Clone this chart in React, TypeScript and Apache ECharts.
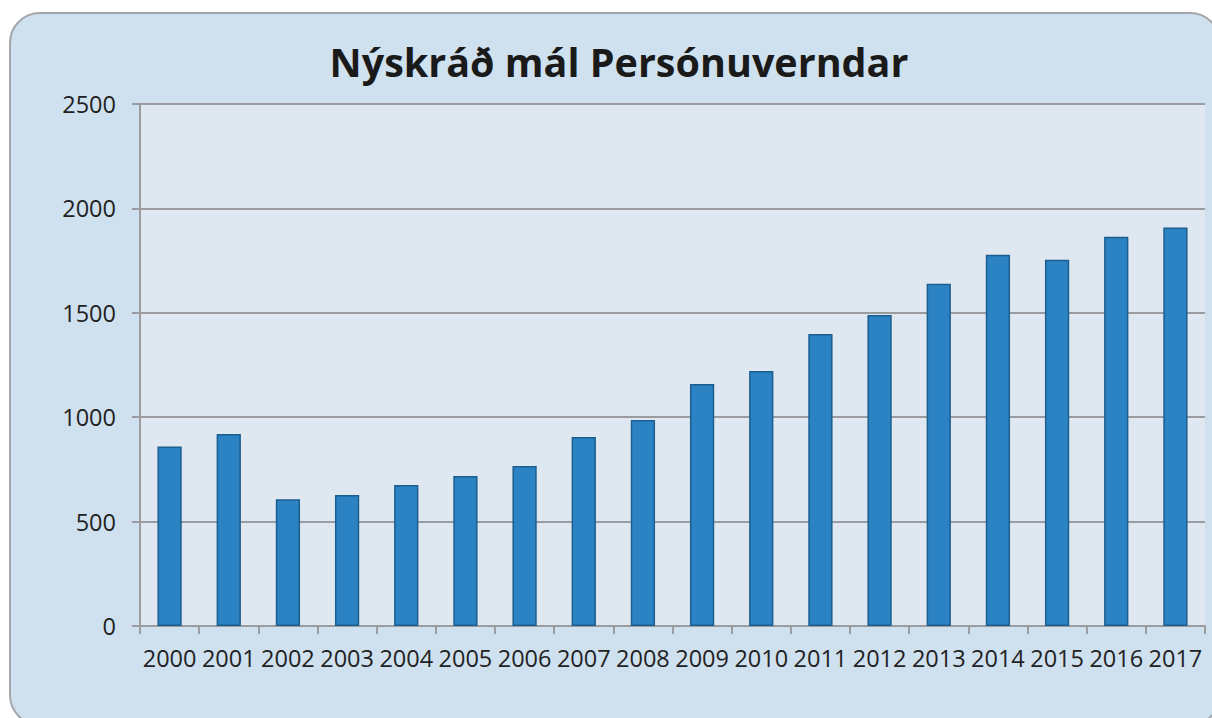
import React, { useEffect, useRef } from "react";
import * as echarts from "echarts";

const titleText = "Nýskráð mál Persónuverndar";
const years = ["2000","2001","2002","2003","2004","2005","2006","2007","2008","2009","2010","2011","2012","2013","2014","2015","2016","2017"];
const cases = [860, 920, 607, 627, 675, 718, 766, 905, 987, 1159, 1221, 1398, 1489, 1639, 1778, 1754, 1864, 1909];

export default function App() {
  const ref = useRef<HTMLDivElement>(null);
  useEffect(() => {
    if (!ref.current) return;
    const chart = echarts.init(ref.current, null, { renderer: "svg" });
    const font = "'Open Sans', 'Noto Sans', sans-serif";
    chart.setOption({
      animation: false,
      graphic: [
        {
          type: "rect",
          z: -10,
          silent: true,
          shape: { x: 10, y: 13, width: 1210, height: 712, r: 30 },
          style: { fill: "#cfe1ef", stroke: "#a3a6aa", lineWidth: 2 },
        },
      ],
      title: {
        text: titleText,
        left: 614,
        textAlign: "center",
        top: 37,
        textStyle: { fontFamily: font, fontWeight: "bold", fontSize: 39.5, color: "#1a1a1a" },
      },
      grid: {
        left: 140,
        top: 104,
        right: 7,
        bottom: 92,
        show: true,
        backgroundColor: "#dfe7f1",
        borderWidth: 0,
        containLabel: false,
      },
      xAxis: {
        type: "category",
        data: years,
        boundaryGap: true,
        axisLine: { show: true, lineStyle: { color: "#9a9c9f", width: 2 } },
        axisTick: { show: true, alignWithLabel: false, length: 8, lineStyle: { color: "#9a9c9f", width: 2 } },
        axisLabel: { interval: 0, margin: 20, fontFamily: font, fontSize: 23.5, color: "#222222" },
        splitLine: { show: false },
      },
      yAxis: {
        type: "value",
        min: 0,
        max: 2500,
        interval: 500,
        axisLine: { show: true, lineStyle: { color: "#9a9c9f", width: 2 } },
        axisTick: { show: true, length: 8, lineStyle: { color: "#9a9c9f", width: 2 } },
        axisLabel: {
          margin: 24,
          fontFamily: font,
          fontSize: 23.5,
          color: "#222222",
          formatter: (v: number) => String(v),
        },
        splitLine: { show: true, lineStyle: { color: "#9a9c9f", width: 2 } },
      },
      series: [
        {
          type: "bar",
          data: cases,
          barWidth: "41%",
          itemStyle: { color: "#2c83c3", borderColor: "#1b5e8f", borderWidth: 1.5 },
        },
      ],
    });
    return () => chart.dispose();
  }, []);
  return (
    <div
      ref={ref}
      style={{ position: "fixed", left: 0, top: 0, width: 1212, height: 718, background: "#ffffff" }}
    />
  );
}
